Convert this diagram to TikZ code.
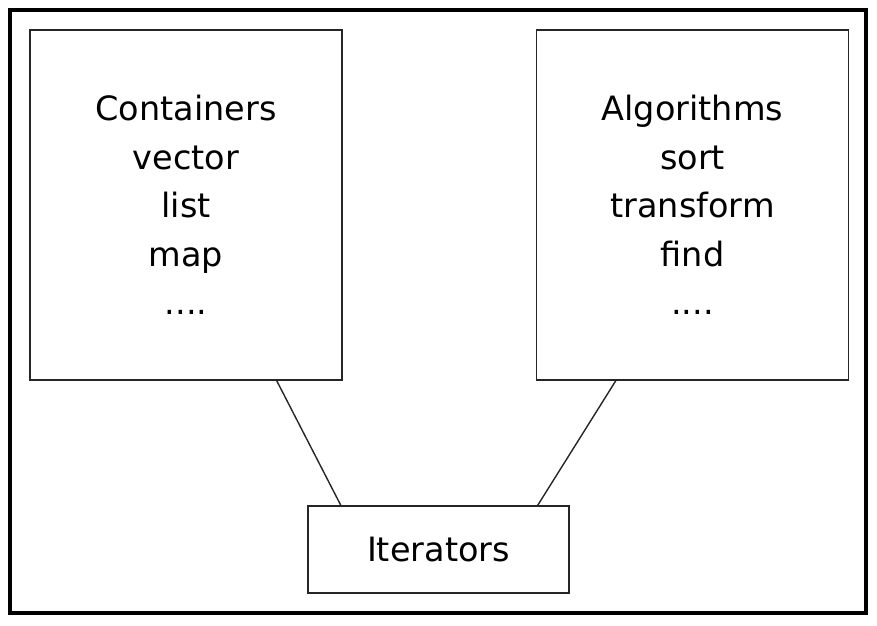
\documentclass[tikz,border=0pt]{standalone}
\usepackage{fontspec}
\setmainfont{DejaVu Sans}
\begin{document}
\begin{tikzpicture}[x=1pt,y=-1pt,
  bigbox/.style={draw=black!85,line width=1.4pt,minimum width=312pt,minimum height=350pt,
    align=center,inner sep=0pt,font=\fontsize{33.5}{48.5}\selectfont},
  itbox/.style={draw=black!85,line width=1.4pt,minimum width=261pt,minimum height=87pt,
    inner sep=0pt,font=\fontsize{33.5}{48.5}\selectfont},
  conn/.style={draw=black!85,line width=1.4pt}]
\useasboundingbox (0,0) rectangle (877,625);
\fill[white] (0,0) rectangle (877,625);
\draw[line width=4pt] (10,10) rectangle (866,613);
\node[bigbox] (cont) at (186,205) {Containers\\vector\\list\\map\\....};
\node[bigbox] (alg) at (692.5,205) {Algorithms\\sort\\transform\\find\\....};
\node[itbox] (it) at (438.5,549.5) {Iterators};
\draw[conn] ([xshift=-66pt]cont.south east) -- ([xshift=33.5pt]it.north west);
\draw[conn] ([xshift=80pt]alg.south west) -- ([xshift=-32pt]it.north east);
\end{tikzpicture}
\end{document}
